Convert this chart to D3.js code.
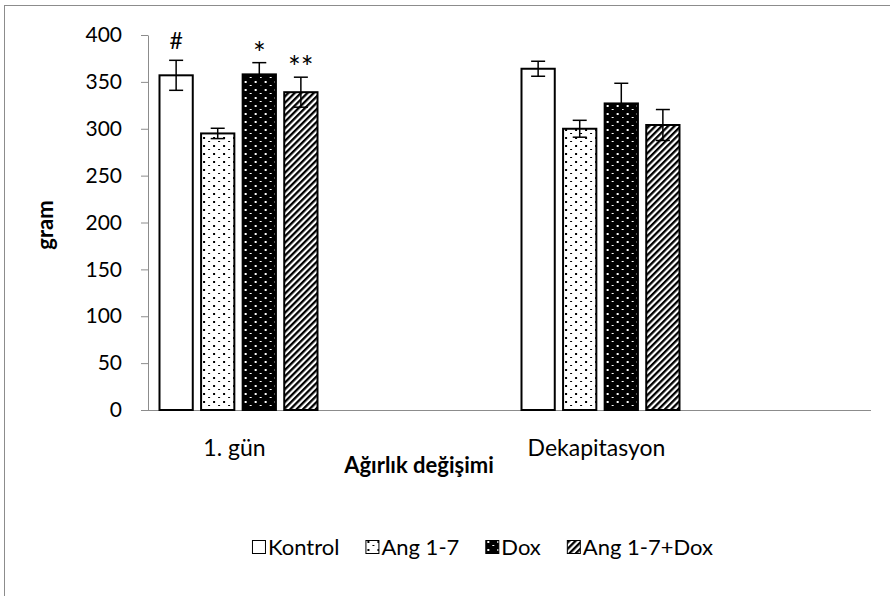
<!DOCTYPE html>
<html>
<head>
<meta charset="utf-8">
<script src="https://d3js.org/d3.v7.min.js"></script>
<style>
body { margin: 0; background: white; }
svg text { font-family: Lato, "Open Sans", sans-serif; fill: #000; }
.axis path, .axis line { stroke: #8c8c8c; }
.axis text { font-size: 21px; }
</style>
</head>
<body>
<svg width="890" height="596"></svg>
<script>
// categories and series
var groups = ["1. gün", "Dekapitasyon"];
var series = ["Kontrol", "Ang 1-7", "Dox", "Ang 1-7+Dox"];

// means and error bars, one entry per group
var kontrolMean = [357, 364];
var kontrolErr  = [16, 8];
var angMean     = [295, 300];
var angErr      = [5.5, 9];
var doxMean     = [358, 327];
var doxErr      = [12.5, 21.5];
var angDoxMean  = [339, 304];
var angDoxErr   = [16, 16.5];

// significance marks above the first group
var marksDay1 = ["#", "", "*", "**"];

var yTicks = [0, 50, 100, 150, 200, 250, 300, 350, 400];

var means = [kontrolMean, angMean, doxMean, angDoxMean];
var errs = [kontrolErr, angErr, doxErr, angDoxErr];

var svg = d3.select("svg");

// chart border (left and top edges only are visible)
svg.append("rect")
  .attr("x", 4.5).attr("y", 5.5)
  .attr("width", 1000).attr("height", 1000)
  .attr("fill", "none").attr("stroke", "#8c8c8c");

var y = d3.scaleLinear().domain([0, 400]).range([410, 35]);
var x0 = d3.scalePoint().domain(groups).range([238.5, 600.5]);
var x1 = d3.scaleBand().domain(series).range([-79, 79]).paddingInner(0.2);

//patterns for the bars
var defs = svg.append("defs");

var pDots = defs.append("pattern").attr("id", "p1")
  .attr("patternUnits", "userSpaceOnUse").attr("width", 10).attr("height", 8);
pDots.append("rect").attr("width", 10).attr("height", 8).attr("fill", "white");
pDots.append("rect").attr("x", 2).attr("y", 1).attr("width", 2).attr("height", 2).attr("fill", "black");
pDots.append("rect").attr("x", 7).attr("y", 5).attr("width", 2).attr("height", 1).attr("fill", "black");

var pDark = defs.append("pattern").attr("id", "p2")
  .attr("patternUnits", "userSpaceOnUse").attr("width", 10).attr("height", 8);
pDark.append("rect").attr("width", 10).attr("height", 8).attr("fill", "black");
pDark.append("rect").attr("x", 2).attr("y", 1).attr("width", 2).attr("height", 2).attr("fill", "white");
pDark.append("rect").attr("x", 7).attr("y", 5).attr("width", 2).attr("height", 1).attr("fill", "white");

var pStripe = defs.append("pattern").attr("id", "p3")
  .attr("patternUnits", "userSpaceOnUse").attr("width", 4.5).attr("height", 4.5)
  .attr("patternTransform", "rotate(45)");
pStripe.append("rect").attr("width", 4.5).attr("height", 4.5).attr("fill", "white");
pStripe.append("rect").attr("width", 2.3).attr("height", 4.5).attr("fill", "black");

var fills = ["white", "url(#p1)", "url(#p2)", "url(#p3)"];

// y axis
var yAxis = svg.append("g").attr("class", "axis")
  .attr("transform", "translate(148,0)")
  .call(d3.axisLeft(y).tickValues(yTicks).tickSize(7).tickSizeOuter(0).tickPadding(19));
yAxis.selectAll("text").attr("fill", "#000");

// x axis line
svg.append("line")
  .attr("x1", 148).attr("x2", 871)
  .attr("y1", y(0) + 0.5).attr("y2", y(0) + 0.5)
  .attr("stroke", "#8c8c8c").attr("stroke-width", 1);

// bars
var rows = [];
groups.forEach(function(g, gi) {
  series.forEach(function(s, si) {
    rows.push({group: g, gi: gi, series: s, si: si, mean: means[si][gi], err: errs[si][gi]});
  });
});

var bar = svg.append("g").selectAll("g").data(rows).enter().append("g")
  .attr("transform", function(d) { return "translate(" + (x0(d.group) + x1(d.series)) + ",0)"; });

bar.append("rect")
  .attr("x", 0)
  .attr("y", function(d) { return y(d.mean); })
  .attr("width", x1.bandwidth())
  .attr("height", function(d) { return y(0) - y(d.mean); })
  .attr("fill", function(d) { return fills[d.si]; })
  .attr("stroke", "black")
  .attr("stroke-width", 2);

// error bars
var cx = x1.bandwidth() / 2;
bar.append("line")
  .attr("x1", cx).attr("x2", cx)
  .attr("y1", function(d) { return y(d.mean - d.err); })
  .attr("y2", function(d) { return y(d.mean + d.err); })
  .attr("stroke", "black").attr("stroke-width", 1.5);
bar.append("line")
  .attr("x1", cx - 7).attr("x2", cx + 7)
  .attr("y1", function(d) { return y(d.mean + d.err); })
  .attr("y2", function(d) { return y(d.mean + d.err); })
  .attr("stroke", "black").attr("stroke-width", 1.5);
bar.append("line")
  .attr("x1", cx - 7).attr("x2", cx + 7)
  .attr("y1", function(d) { return y(d.mean - d.err); })
  .attr("y2", function(d) { return y(d.mean - d.err); })
  .attr("stroke", "black").attr("stroke-width", 1.5);

// significance marks
bar.filter(function(d) { return d.gi === 0 && marksDay1[d.si] !== ""; })
  .append("text")
  .attr("x", cx)
  .attr("y", function(d) {
    var top = y(d.mean + d.err);
    return marksDay1[d.si] === "#" ? top - 11 : top + 1;
  })
  .attr("text-anchor", "middle")
  .style("font-size", function(d) { return marksDay1[d.si] === "#" ? "23px" : "30px"; })
  .text(function(d) { return marksDay1[d.si]; });

// category labels
svg.append("g").selectAll("text").data(groups).enter().append("text")
  .attr("x", function(d) { return x0(d) - 4; })
  .attr("y", 456)
  .attr("text-anchor", "middle")
  .style("font-size", "23px")
  .text(function(d) { return d; });

// axis titles
svg.append("text")
  .attr("x", 419).attr("y", 473)
  .attr("text-anchor", "middle")
  .style("font-size", "22px").style("font-weight", "bold")
  .text("Ağırlık değişimi");

svg.append("text")
  .attr("transform", "translate(53,225) rotate(-90)")
  .attr("text-anchor", "middle")
  .style("font-size", "22px").style("font-weight", "bold")
  .text("gram");

// legend, laid out left to right then right-aligned at 713
var legend = svg.append("g");
var lx = 0;
series.forEach(function(s, i) {
  var item = legend.append("g").attr("transform", "translate(" + lx + ",0)");
  item.append("rect")
    .attr("x", 0.5).attr("y", -7.5).attr("width", 13).attr("height", 13)
    .attr("fill", fills[i]).attr("stroke", "black").attr("stroke-width", 1);
  var t = item.append("text")
    .attr("x", 16).attr("y", 7)
    .style("font-size", "22px")
    .text(s);
  lx += 16 + t.node().getComputedTextLength() + 26;
});
var legendWidth = lx - 26;
legend.attr("transform", "translate(" + (713 - legendWidth) + ",548)");
</script>
</body>
</html>
